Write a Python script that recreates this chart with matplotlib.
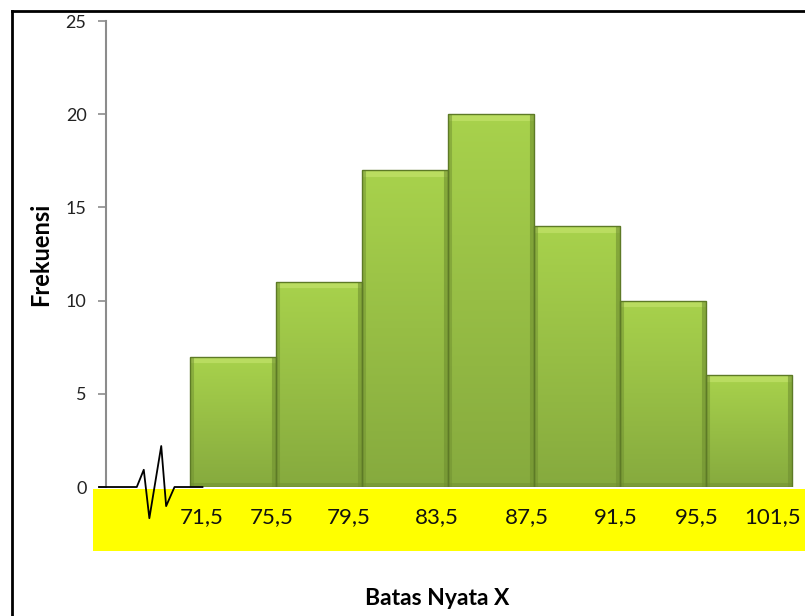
import numpy as np
import matplotlib.pyplot as plt
from matplotlib.colors import to_rgb

# frequency table
edges = [71.5, 75.5, 79.5, 83.5, 87.5, 91.5, 95.5, 99.5]
freq = [7, 11, 17, 20, 14, 10, 6]
tick_text = ['71,5', '75,5', '79,5', '83,5', '87,5', '91,5', '95,5', '101,5']
width = 4

# the boundary labels sit a little off their edges
label_shift = [0.56, -0.19, -0.61, -0.52, -0.33, -0.19, -0.42, -0.89]

plt.rcParams['font.family'] = ['Lato', 'DejaVu Sans']

fig = plt.figure(figsize=(8.05, 6.16), dpi=100)
fig.patch.set_facecolor('white')

# yellow band behind the class boundaries
fig.add_artist(plt.Rectangle((0.1155, 0.1055), 0.8845, 0.1006, transform=fig.transFigure,
                             facecolor='#ffff00', edgecolor='none', zorder=0))
# frame lines top and left
fig.add_artist(plt.Line2D([0.015, 1.0], [0.982, 0.982], transform=fig.transFigure, color='black', lw=2))
fig.add_artist(plt.Line2D([0.015, 0.015], [0.0, 0.982], transform=fig.transFigure, color='black', lw=2))

ax = fig.add_axes([0.1317, 0.2094, 0.8683, 0.7565])
ax.set_facecolor('none')
ax.set_xlim(67.59, 100.1)
ax.set_ylim(0, 25)

top_c = np.array(to_rgb('#a8d24c'))
bot_c = np.array(to_rgb('#86aa3e'))
hi_c = np.array(to_rgb('#c2e26a'))
dark_c = np.array(to_rgb('#6f8f30'))

bars = ax.bar(edges[:-1], freq, width=width, align='edge', color='none',
              edgecolor='#5d7a26', linewidth=1.0, zorder=3)
for b, h in zip(bars, freq):
    ny = int(h * 18.6)
    nx = 86
    t = np.linspace(0, 1, ny)[:, None, None]
    img = top_c * (1 - t) + bot_c * t
    img = np.repeat(img, nx, axis=1)
    bev = 7
    img[:bev, :, :] = img[:bev, :, :] * 0.3 + hi_c * 0.7
    img[:, :4, :] = img[:, :4, :] * 0.5 + dark_c * 0.5
    img[:, -5:, :] = img[:, -5:, :] * 0.4 + dark_c * 0.6
    img[-4:, :, :] = img[-4:, :, :] * 0.5 + dark_c * 0.5
    x0 = b.get_x()
    im = ax.imshow(img, extent=(x0, x0 + width, 0, h), aspect='auto',
                   interpolation='bilinear', zorder=2)
    im.set_clip_path(b)

ax.set_yticks(range(0, 26, 5))
ax.tick_params(axis='y', direction='out', length=6, width=1.2, color='#8c8c8c',
               labelsize=13, labelcolor='#222222', pad=8)
ax.set_xticks([])
for s in ['top', 'right', 'bottom']:
    ax.spines[s].set_visible(False)
ax.spines['left'].set_color('#8c8c8c')
ax.spines['left'].set_linewidth(1.5)

# axis stub with break mark before the first class
brk_x = [-0.01, 0.044, 0.054, 0.062, 0.079, 0.086, 0.098, 0.138]
brk_y = [0.0, 0.0, 0.037, -0.067, 0.088, -0.041, 0.0, 0.0]
ax.plot(brk_x, brk_y, transform=ax.transAxes, color='black', lw=1.3,
        clip_on=False, zorder=4)

# class boundary labels
for x, dx, s in zip(edges, label_shift, tick_text):
    ax.text(x + dx, -0.064, s, transform=ax.get_xaxis_transform(), ha='center',
            va='center', fontsize=16, color='#111111')

ax.set_ylabel('Frekuensi', fontsize=17, fontweight='bold', labelpad=10)
fig.text(0.543, 0.029, 'Batas Nyata X', ha='center', va='center',
         fontsize=16.5, fontweight='bold')

fig.savefig('out.png', dpi=100)
